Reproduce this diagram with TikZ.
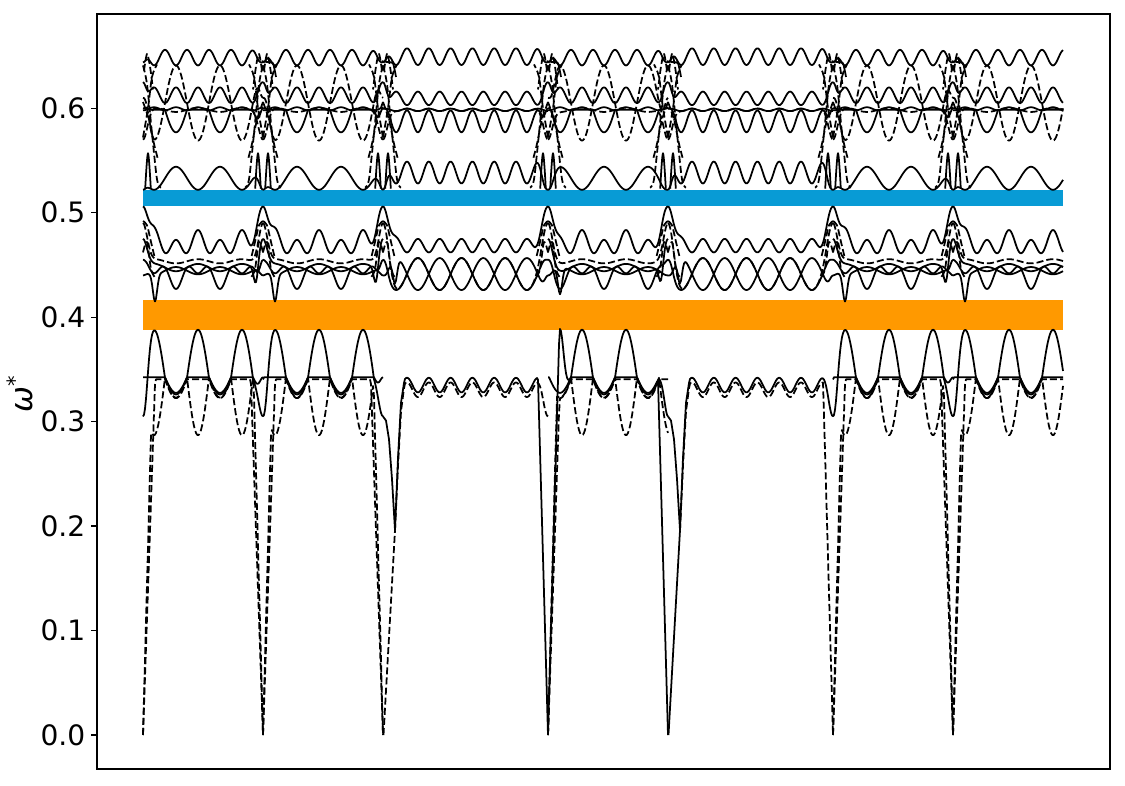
\documentclass[tikz,border=0pt]{standalone}
\usepackage{fontspec}
\setmainfont{DejaVu Sans}
\definecolor{bandblue}{RGB}{8,155,213}
\definecolor{bandorange}{RGB}{255,153,0}
% ---------- segment of the first kind (period 44 px) ----------
\newcommand\Tone[3]{%
 \def\xa{#1}\def\xb{#2}\def\pp{#3}%
 \pgfmathtruncatemacro\ns{#2-#1+1}%
 % lower group
 \draw[sl] plot[domain=#1:#2,samples=\ns] (\x,{min(bR(bL(max(0.342+0.046*cc(\x),0.342+0.016*cc(\x))+\eL*gs(\x,\xa+12,5),\x,5,0.305),\x,5,0.305),0.034*abs(\x-\xa)+\lLk,0.034*abs(\x-\xb)+\lRk)});
 \draw[sl] plot[domain=#1:#2,samples=\ns] (\x,{bR(min(0.3425,0.3425+0.015*cc(\x)),\x,5,\lTwoR)});
 \draw[dl] plot[domain=#1:#2,samples=\ns] (\x,{min(0.342-0.055*cc(\x),0.342+0.019*cc(\x),0.036*abs(\x-\xa)+\aLk,0.036*abs(\x-\xb)+\aRk)});
 \draw[dl] plot[domain=#1:#2,samples=\ns] (\x,{min(0.3405,0.3405+0.018*cc(\x),0.028*abs(\x-\xa)+\aLk,0.028*abs(\x-\xb)+\aRk)});
 % middle group
 \draw[sl] plot[domain=#1:#2,samples=\ns] (\x,{bR(bL(0.4615+0.0173*cc(\x)*cc(\x)+0.0047*cc(\x),\x,8,0.506),\x,8,0.506)});
 \draw[sl] plot[domain=#1:#2,samples=\ns] (\x,{bR(bL(0.4475-0.013*cc(\x)*cc(\x)+0.0075*cc(\x),\x,5,0.455),\x,5,0.455)});
 \draw[sl] plot[domain=#1:#2,samples=\ns] (\x,{bR(bL(0.4475+0.0035*cc(\x),\x,6,0.475),\x,6,0.475)-0.02*\bRw*gs(\x,\xb-7,3)});
 \draw[sl] plot[domain=#1:#2,samples=\ns] (\x,{bR(bL(0.4445-0.0035*cc(\x),\x,5,0.44),\x,5,0.44)-0.026*\bLw*gs(\x,\xa+12,3)});
 \draw[dl] plot[domain=#1:#2,samples=\ns] (\x,{bR(bL(0.4535+0.002*cc(\x),\x,6,0.49),\x,6,0.49)});
 % upper group
 \draw[sl] plot[domain=#1:#2,samples=\ns] (\x,{bR(bL(0.6485-0.0075*(2*cc(\x)*cc(\x)-1),\x,6,0.644),\x,6,0.644)});
 \draw[sl] plot[domain=#1:#2,samples=\ns] (\x,{bR(bL(0.6125+0.0075*(2*cc(\x)*cc(\x)-1),\x,5,0.625),\x,5,0.625)});
 \draw[sl] plot[domain=#1:#2,samples=\ns] (\x,{bR(bL(min(0.5985,0.5985+0.0215*cc(\x)),\x,5,0.60),\x,5,0.60)});
 \draw[sl] plot[domain=#1:#2,samples=\ns] (\x,{0.5995+0.0015*(2*cc(\x)*cc(\x)-1)});
 \draw[dl] plot[domain=#1:#2,samples=\ns] (\x,{bR(bL(0.605-0.036*cc(\x),\x,6,0.61),\x,6,0.61)});
 \draw[dl] plot[domain=#1:#2,samples=\ns] (\x,{bR(bL(0.5985+0.002*cc(\x),\x,6,0.57),\x,6,0.57)});
 \draw[sl] plot[domain=#1:#2,samples=\ns] (\x,{bR(bL(0.533-0.011*cc(\x),\x,6,0.522),\x,6,0.522)});
}
% ---------- segment of the second kind (ripple, period 21.8 px) ----------
\newcommand\Ttwo[3]{%
 \def\xa{#1}\def\xb{#2}\def\qq{#3}\def\bLw{1}\def\bRw{1}%
 \pgfmathtruncatemacro\ns{#2-#1+1}%
 \pgfmathtruncatemacro\nr{#2-#1-22+1}%
 \pgfmathsetmacro\xs{#1+22}%
 % lower group
 \draw[sl] (\xa,0.305) -- (\xa+3,0.301) -- (\xa+6,0.283) -- (\xa+9,0.245) -- (\xa+12,0.196) -- (\xa+15,0.265) -- (\xa+18,0.318) -- (\xa+21,0.337) -- plot[domain=\xs:#2,samples=\nr] (\x,{min(bR(0.335+0.007*rr(\x),\x,5,\rRv),0.034*abs(\x-\xb)+\rRk)});
 \draw[armst] (\xa+0.5,0) -- (\xa+12,0.196);
 \draw[dl] (\xa+12,0.196) -- (\xa+15,0.258) -- (\xa+18,0.31) -- (\xa+21,0.332) -- plot[domain=\xs:#2,samples=\nr] (\x,{min(bR(0.3305+0.007*rr(\x),\x,5,\dRv),0.034*abs(\x-\xb)+\dRk)});
 % middle group
 \draw[sl] plot[domain=#1:#2,samples=\ns] (\x,{bR(bL(0.4685-0.0065*rr(\x),\x,8,0.506),\x,8,0.506)});
 \draw[sl] plot[domain=#1:#2,samples=\ns] (\x,{bR(bL(0.4413+0.0153*ee(\x),\x,5,0.455),\x,5,0.455)});
 \draw[sl] plot[domain=#1:#2,samples=\ns] (\x,{bR(bL(0.4413-0.0153*ee(\x),\x,5,0.44),\x,5,0.44)-0.024*gs(\x,\xa+12,3)});
 \draw[dl] plot[domain=#1:#2,samples=\ns] (\x,{bR(bL(0.4413+0.0153*ee(\x),\x,7,0.49),\x,7,0.49)});
 % upper group
 \draw[sl] plot[domain=#1:#2,samples=\ns] (\x,{bR(bL(0.6494+0.008*rr(\x),\x,6,0.644),\x,6,0.644)});
 \draw[sl] plot[domain=#1:#2,samples=\ns] (\x,{bR(bL(0.6095-0.0065*rr(\x),\x,5,0.625),\x,5,0.625)});
 \draw[sl] plot[domain=#1:#2,samples=\ns] (\x,{0.5985+0.0012*rr(\x)});
 \draw[sl] plot[domain=#1:#2,samples=\ns] (\x,{bR(bL(0.5875+0.0105*rr(\x),\x,5,0.60),\x,5,0.60)});
 \draw[dl] plot[domain=#1:#2,samples=\ns] (\x,{bR(bL(0.5985+0.0012*rr(\x),\x,6,0.57),\x,6,0.57)});
 \draw[sl] plot[domain=#1:#2,samples=\ns] (\x,{bR(bL(0.5385+0.0105*rr(\x),\x,6,0.522),\x,6,0.522)});
}
% ---------- tangle of crossing branches at one side of a segment boundary ----------
\newcommand\TngHalf[2]{%
 \begin{scope}[shift={(#1,0)},xscale=#2]
  \draw[dl] plot[smooth] coordinates {(0,0.641) (4,0.623) (9,0.576) (14,0.532) (18,0.524)};
  \draw[dl] plot[smooth] coordinates {(0,0.572) (5,0.600) (9,0.630) (14,0.642)};
  \draw[dl] plot[smooth] coordinates {(0,0.606) (6,0.589) (11,0.566) (15,0.551)};
  \draw[dl] plot[smooth] coordinates {(1,0.636) (4,0.652) (7,0.640) (10,0.618)};
  \draw[sl] plot[smooth,tension=0.6] coordinates {(2.2,0.523) (5,0.557) (7.8,0.523)};
  \draw[dl] plot[smooth] coordinates {(0,0.492) (4,0.488) (8,0.472) (12,0.456)};
  \draw[dl] plot[smooth] coordinates {(0,0.462) (4,0.472) (8,0.446) (12,0.438)};
 \end{scope}}
% flat top to the right of a boundary
\newcommand\TngTop[1]{%
 \draw[sl] plot[smooth] coordinates {(#1-1,0.645) (#1+6,0.644) (#1+10,0.643) (#1+13,0.630)};}
\begin{document}
\begin{tikzpicture}[x=0.25mm,y=0.25mm,
  sl/.style={line width=1.25pt,line join=round},
  dl/.style={line width=1.25pt,line join=round,dash pattern=on 5pt off 2.2pt},
  armst/.style={dl},
  ticklab/.style={anchor=east,inner sep=0pt,font=\fontsize{20}{24}\selectfont},
  declare function={
    gs(\uA,\uB,\uC)=exp(-(((\uA)-(\uB))/(\uC))*(((\uA)-(\uB))/(\uC)));
    bL(\uA,\uB,\uC,\uD)=(\uA)+\bLw*((\uD)-(\uA))*gs(\uB,\xa,\uC);
    bR(\uA,\uB,\uC,\uD)=(\uA)+\bRw*((\uD)-(\uA))*gs(\uB,\xb,\uC);
    cc(\uA)=cos(8.181818*((\uA)-\pp));
    rr(\uA)=cos(16.513761*((\uA)-\qq));
    ee(\uA)=cos(8.256881*((\uA)-\qq-10.9));
  }]
\useasboundingbox (0,0) rectangle (1125,785);
\begin{scope}[shift={(0,50)},y=261.125mm]
 % band gaps
 \fill[bandblue] (143,0.5065) rectangle (1063,0.5218);
 \fill[bandorange] (143,0.3877) rectangle (1063,0.4165);
 % segments
 \def\bLw{1}\def\bRw{1}\def\aLk{0}\def\aRk{0}\def\lLk{1}\def\lRk{1}\def\eL{0}\def\lTwoR{0.3425}
 \Tone{143}{263}{154}
 \Tone{263}{383}{275}
 \def\rRk{0}\def\rRv{0.335}\def\dRk{1}\def\dRv{0.305}\tikzset{armst/.style={dl}}
 \Ttwo{383}{548}{407}
 \def\aRk{1}\def\lLk{0}\def\lRk{0}\def\eL{0.063}\def\lTwoR{0.305}
 \Tone{548}{668}{582}
 \def\rRk{1}\def\rRv{0.305}\def\dRk{0}\def\dRv{0.33}\tikzset{armst/.style={sl}}
 \Ttwo{668}{833}{692}
 \def\aRk{0}\def\lLk{1}\def\lRk{1}\def\eL{0}\def\lTwoR{0.3425}
 \Tone{833}{953}{845}
 \def\aRk{1}\def\bRw{0}
 \Tone{953}{1063}{965}
 % tangles at the boundaries
 \TngHalf{143}{1}
 \foreach \bx in {263,383,548,668,833,953}{\TngHalf{\bx}{1}\TngHalf{\bx}{-1}\TngTop{\bx}}
 % y ticks
 \foreach \v/\lab [count=\i] in {0/0.0,0.1/0.1,0.2/0.2,0.3/0.3,0.4/0.4,0.5/0.5,0.6/0.6}{
   \draw[line width=0.9pt] (91,\v) -- (97,\v);
   \node[ticklab] (tk\i) at (85.5,\v) {\lab};
 }
\end{scope}
\draw[line width=0.9pt] (97,16) rectangle (1110,771);
\node[rotate=90,anchor=base,inner sep=0pt,font=\fontsize{22}{26}\selectfont] (ylab) at (32,391) {\textit{ω}\raisebox{0.32em}{\fontsize{15}{15}\selectfont *}};
\end{tikzpicture}
\end{document}
